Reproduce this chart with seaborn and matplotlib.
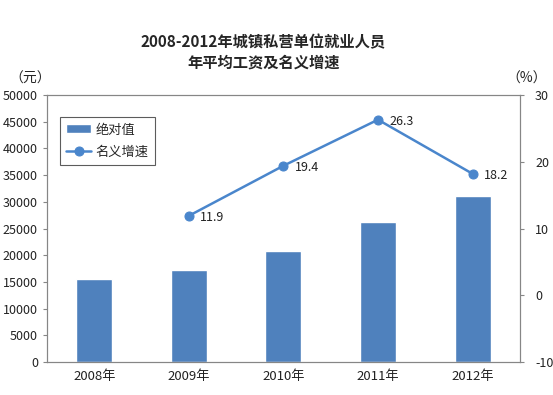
import numpy as np
import pandas as pd
import seaborn as sns
import matplotlib.pyplot as plt

years = ['2008年', '2009年', '2010年', '2011年', '2012年']
wages = [15600, 17300, 20700, 26200, 31000]
growth_years = ['2009年', '2010年', '2011年', '2012年']
growth = [11.9, 19.4, 26.3, 18.2]
left_ticks = list(range(0, 50001, 5000))
right_ticks = [-10, 0, 10, 20, 30]

sns.set_theme(style='white')
plt.rcParams['font.family'] = ['Noto Sans CJK SC', 'DejaVu Sans']
plt.rcParams['axes.unicode_minus'] = False

bar_color = '#4F81BD'
line_color = '#4A86CC'
spine_color = '#868686'

fig = plt.figure(figsize=(5.53, 3.95), dpi=100)
ax = fig.add_axes([0.085, 0.0835, 0.855, 0.676])

df = pd.DataFrame({'year': years, 'wage': wages})
sns.barplot(data=df, x='year', y='wage', order=years, color=bar_color,
            saturation=1, width=0.38, ax=ax, label='绝对值')
ax.set_ylim(0, 50000)
ax.set_yticks(left_ticks)
ax.set_xlim(-0.5, len(years) - 0.5)
ax.set_xlabel('')
ax.set_ylabel('')

ax2 = ax.twinx()
gx = [years.index(y) for y in growth_years]
sns.lineplot(x=gx, y=growth, ax=ax2, color=line_color, linewidth=1.8,
             marker='o', markersize=6.5, markeredgecolor=line_color, label='名义增速')
ax2.set_ylim(-10, 30)
ax2.set_yticks(right_ticks)
ax2.set_xlim(-0.5, len(years) - 0.5)

for x, v in zip(gx, growth):
    ax2.annotate(f'{v}', (x, v), xytext=(8, -1), textcoords='offset points',
                 ha='left', va='center', fontsize=9, color='#222222')

for a in (ax, ax2):
    for s in a.spines.values():
        s.set_color(spine_color)
        s.set_linewidth(0.8)
        s.set_visible(True)
    a.tick_params(labelsize=9, colors='#222222', length=3, width=0.8)
    a.tick_params(axis='y', color=spine_color)

ax.set_xticks(np.arange(-0.5, len(years), 1.0), minor=True)
ax.tick_params(axis='x', which='major', length=0, pad=6, labelsize=9.5)
ax.tick_params(axis='x', which='minor', length=4, color=spine_color, width=0.8)
ax.tick_params(axis='y', direction='out', left=True)
ax2.tick_params(axis='y', right=True, pad=8)

if ax.get_legend():
    ax.get_legend().remove()
h1, l1 = ax.get_legend_handles_labels()
h2, l2 = ax2.get_legend_handles_labels()
leg = ax2.legend(h1 + h2, l1 + l2, loc='upper left', bbox_to_anchor=(0.027, 0.918),
                 borderaxespad=0, fontsize=9.5, frameon=True, fancybox=False,
                 handlelength=1.9, handletextpad=0.3, borderpad=0.5, labelspacing=0.7)
leg.get_frame().set_edgecolor('#333333')
leg.get_frame().set_linewidth(0.8)

fig.text(0.476, 0.868, '2008-2012年城镇私营单位就业人员\n年平均工资及名义增速',
         ha='center', va='center', fontsize=11, fontweight='bold', linespacing=1.35)
fig.text(0.054, 0.802, '（元）', ha='center', va='center', fontsize=10)
fig.text(0.952, 0.802, '（%）', ha='center', va='center', fontsize=10)

fig.savefig('out.png', dpi=100)
